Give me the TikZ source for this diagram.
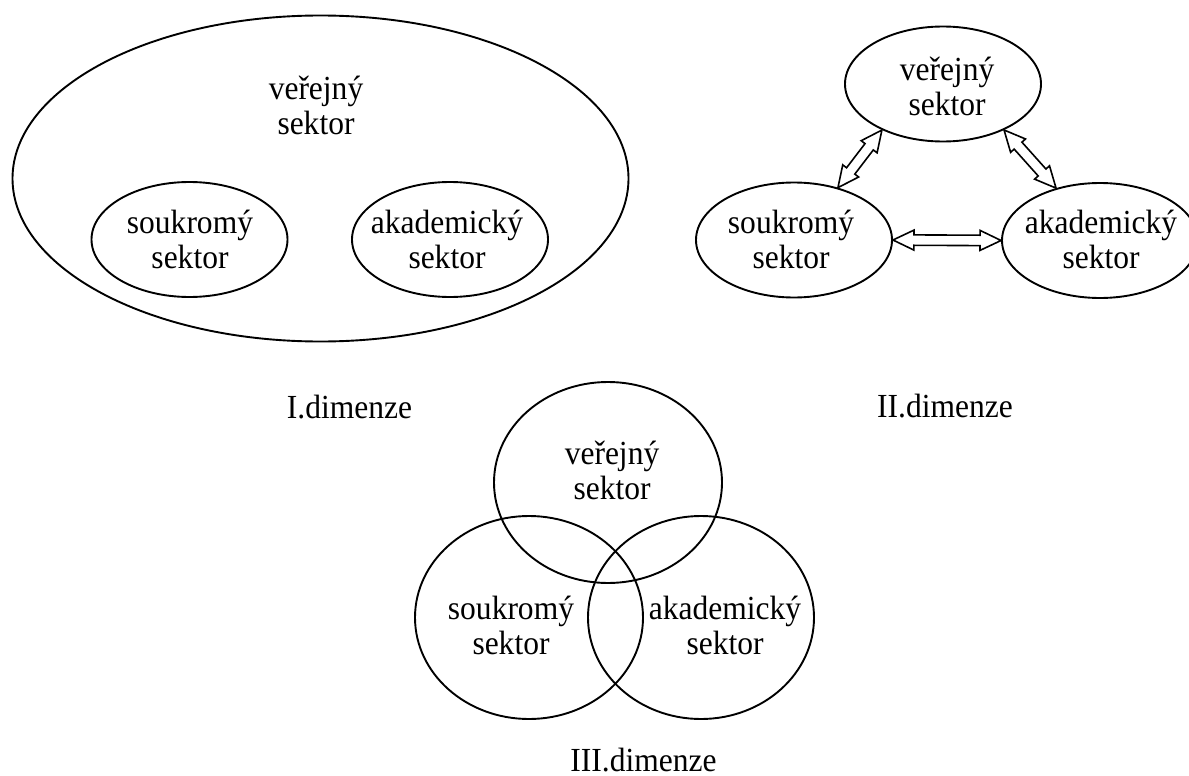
\documentclass[tikz,border=0pt]{standalone}
\usepackage{fontspec}
\setmainfont{Liberation Serif}
\newfontfamily\lblfont[FakeStretch=0.935]{Liberation Serif}
\usetikzlibrary{shapes.geometric,calc}
\newcommand\linkarrow[2]{%
  \path (#1) coordinate (la) (#2) coordinate (lb);
  \pgfpointdiff{\pgfpointanchor{la}{center}}{\pgfpointanchor{lb}{center}}%
  \pgfgetlastxy{\ldx}{\ldy}%
  \pgfmathsetmacro\lang{atan2(\ldy,\ldx)}%
  \pgfmathsetmacro\llen{veclen(\ldx,\ldy)}%
  \pgfmathsetmacro\lend{\llen-21}%
  \begin{scope}[shift={(la)}, rotate=\lang]
    \draw[arrowline] (0,0) -- (21,10) -- (21,5.2) -- (\lend,5.2) -- (\lend,10)
      -- (\llen,0) -- (\lend,-10) -- (\lend,-5.2) -- (21,-5.2) -- (21,-10) -- cycle;
  \end{scope}}
\begin{document}
\begin{tikzpicture}[x=1pt,y=-1pt,
  ell/.style={ellipse, draw, line width=1.9pt, inner sep=0pt},
  lbl/.style={font=\lblfont\fontsize{33.7}{35}\selectfont, align=center, inner sep=0pt},
  dimlabel/.style={font=\lblfont\fontsize{33.7}{35}\selectfont, inner sep=0pt, anchor=base},
  arrowline/.style={draw, line width=1.6pt, line join=miter, fill=white}]
\useasboundingbox (0,0) rectangle (1189,776);

% I. dimenze
\node[ell, minimum width=616, minimum height=326] (pubA) at (320.5,178.5) {};
\node[ell, minimum width=196, minimum height=115] (priA) at (189.5,239.5) {};
\node[ell, minimum width=196, minimum height=115] (acaA) at (450,239.5) {};
\node[lbl] (tpubA) at (316,105) {veřejný\\sektor};
\node[lbl] (tpriA) at (190,239) {soukromý\\sektor};
\node[lbl] (tacaA) at (447,239) {akademický\\sektor};
\node[dimlabel] (capA) at (349.5,418) {I.dimenze};

% II. dimenze
\node[ell, minimum width=196, minimum height=115] (pubB) at (943,84) {};
\node[ell, minimum width=196, minimum height=115] (priB) at (794,240) {};
\node[ell, minimum width=196, minimum height=115] (acaB) at (1100,240.5) {};
\node[lbl] (tpubB) at (947,86) {veřejný\\sektor};
\node[lbl] (tpriB) at (791,239) {soukromý\\sektor};
\node[lbl] (tacaB) at (1101,239) {akademický\\sektor};
\node[dimlabel] (capB) at (945,417) {II.dimenze};
\linkarrow{priB.50}{pubB.217}
\linkarrow{pubB.323}{acaB.130}
\linkarrow{priB.0}{acaB.180}

% III. dimenze
\node[ell, minimum width=228, minimum height=201] (pubC) at (608,482.5) {};
\node[ell, minimum width=228, minimum height=203] (priC) at (529,617.5) {};
\node[ell, minimum width=226, minimum height=203] (acaC) at (701,617.5) {};
\node[lbl] (tpubC) at (612,470) {veřejný\\sektor};
\node[lbl] (tpriC) at (511,625) {soukromý\\sektor};
\node[lbl] (tacaC) at (725,625) {akademický\\sektor};
\node[dimlabel] (capC) at (643.5,771) {III.dimenze};
\end{tikzpicture}
\end{document}
